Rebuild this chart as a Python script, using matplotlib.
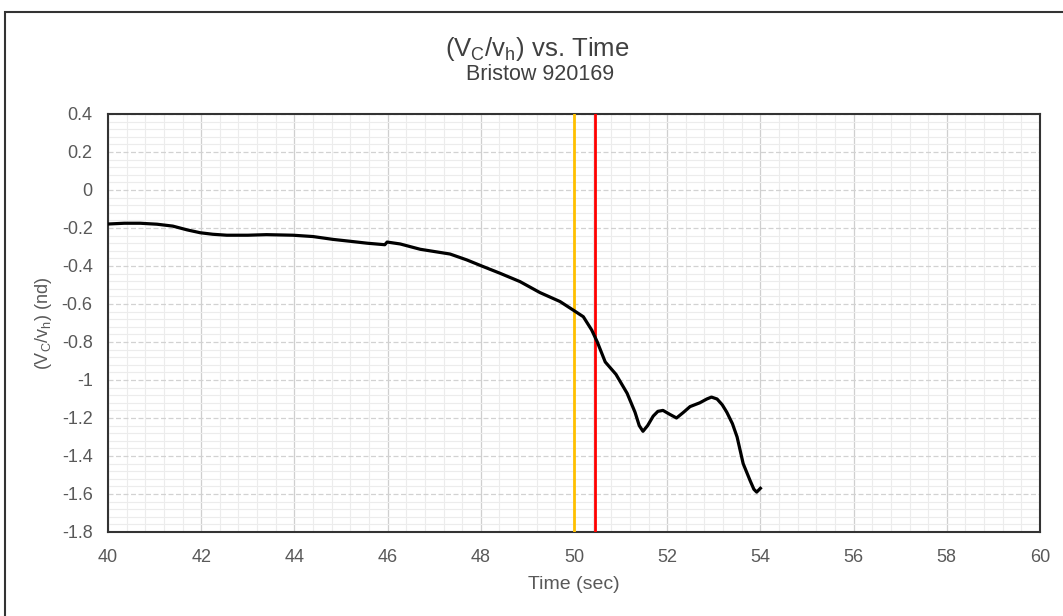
import matplotlib.pyplot as plt
from matplotlib.patches import Rectangle
from matplotlib.ticker import MultipleLocator
import numpy as np

plt.rcParams['font.family'] = ['Liberation Sans', 'DejaVu Sans']
plt.rcParams['mathtext.default'] = 'regular'

# Vc/vh trace
time = [40.0, 40.35, 40.69, 41.05, 41.39, 41.7, 41.98, 42.25, 42.55, 43.0, 43.4, 43.97,
        44.4, 44.83, 45.2, 45.56, 45.94, 45.99, 46.27, 46.7, 47.34, 47.7, 48.02,
        48.41, 48.84, 49.27, 49.7, 49.97, 50.2, 50.38, 50.5, 50.67, 50.9, 51.14,
        51.31, 51.4, 51.48, 51.58, 51.7, 51.8, 51.91, 52.05, 52.2, 52.35, 52.49,
        52.7, 52.85, 52.95, 53.07, 53.18, 53.28, 53.4, 53.5, 53.63, 53.78, 53.86,
        53.92, 54.0]
vcvh = [-0.179, -0.175, -0.175, -0.18, -0.19, -0.21, -0.225, -0.233, -0.238, -0.238,
        -0.235, -0.238, -0.245, -0.26, -0.27, -0.28, -0.288, -0.274, -0.284, -0.312,
        -0.337, -0.368, -0.40, -0.438, -0.482, -0.54, -0.587, -0.63, -0.667, -0.737,
        -0.80, -0.905, -0.97, -1.07, -1.17, -1.24, -1.27, -1.24, -1.19, -1.165,
        -1.16, -1.18, -1.2, -1.17, -1.14, -1.12, -1.10, -1.09, -1.10, -1.13,
        -1.17, -1.23, -1.30, -1.44, -1.53, -1.575, -1.59, -1.57]

yticks = [-1.8, -1.6, -1.4, -1.2, -1, -0.8, -0.6, -0.4, -0.2, 0, 0.2, 0.4]
ylabels = ['-1.8', '-1.6', '-1.4', '-1.2', '-1', '-0.8', '-0.6', '-0.4', '-0.2', '0', '0.2', '0.4']

t_yellow = 50.0
t_red = 50.45

fig = plt.figure(figsize=(10.63, 6.16), dpi=100)
# outer chart frame
fig.patches.append(Rectangle((5/1063, -0.05), 1.1, 1 - 12/616 + 0.05,
                             transform=fig.transFigure, fill=False,
                             edgecolor='#333333', linewidth=1.5))

ax = fig.add_axes([108/1063, 1 - 532/616, (1040 - 108)/1063, (532 - 114)/616])

ax.plot(time, vcvh, color='black', linewidth=2.3, zorder=4)
ax.axvline(t_yellow, color='#FFC000', linewidth=2, zorder=3)
ax.axvline(t_red, color='#FF0000', linewidth=2, zorder=3)

ax.set_xlim(40, 60)
ax.set_ylim(-1.8, 0.4)
ax.xaxis.set_major_locator(MultipleLocator(2))
ax.xaxis.set_minor_locator(MultipleLocator(0.4))
ax.yaxis.set_minor_locator(MultipleLocator(0.04))
ax.set_yticks(yticks)
ax.set_yticklabels(ylabels)

ax.grid(which='major', axis='x', color='#cfcfcf', linewidth=0.9)
ax.grid(which='major', axis='y', color='#d2d2d2', linewidth=0.9, linestyle=(0, (4, 2)))
ax.grid(which='minor', color='#ececec', linewidth=0.8)
ax.set_axisbelow(True)

for s in ax.spines.values():
    s.set_color('#333333')
    s.set_linewidth(1.5)

ax.tick_params(which='both', length=0, colors='#595959', labelsize=13)
ax.tick_params(axis='x', pad=12)
ax.tick_params(axis='y', pad=11)

ax.set_xlabel('Time (sec)', fontsize=14, color='#595959')
ax.set_ylabel('(V$_C$/v$_h$) (nd)', fontsize=13, color='#595959')
ax.xaxis.set_label_coords(0.5, -(576 - 532)/418)
ax.yaxis.set_label_coords(-(108 - 54)/932, 0.5)

fig.text(0.505, 1 - 49/616, '(V$_C$/v$_h$) vs. Time', ha='center', va='center',
         fontsize=18.5, color='#404040')
fig.text(0.508, 1 - 75/616, 'Bristow 920169', ha='center', va='center',
         fontsize=15.5, color='#404040')

fig.savefig('out.png', dpi=100)
